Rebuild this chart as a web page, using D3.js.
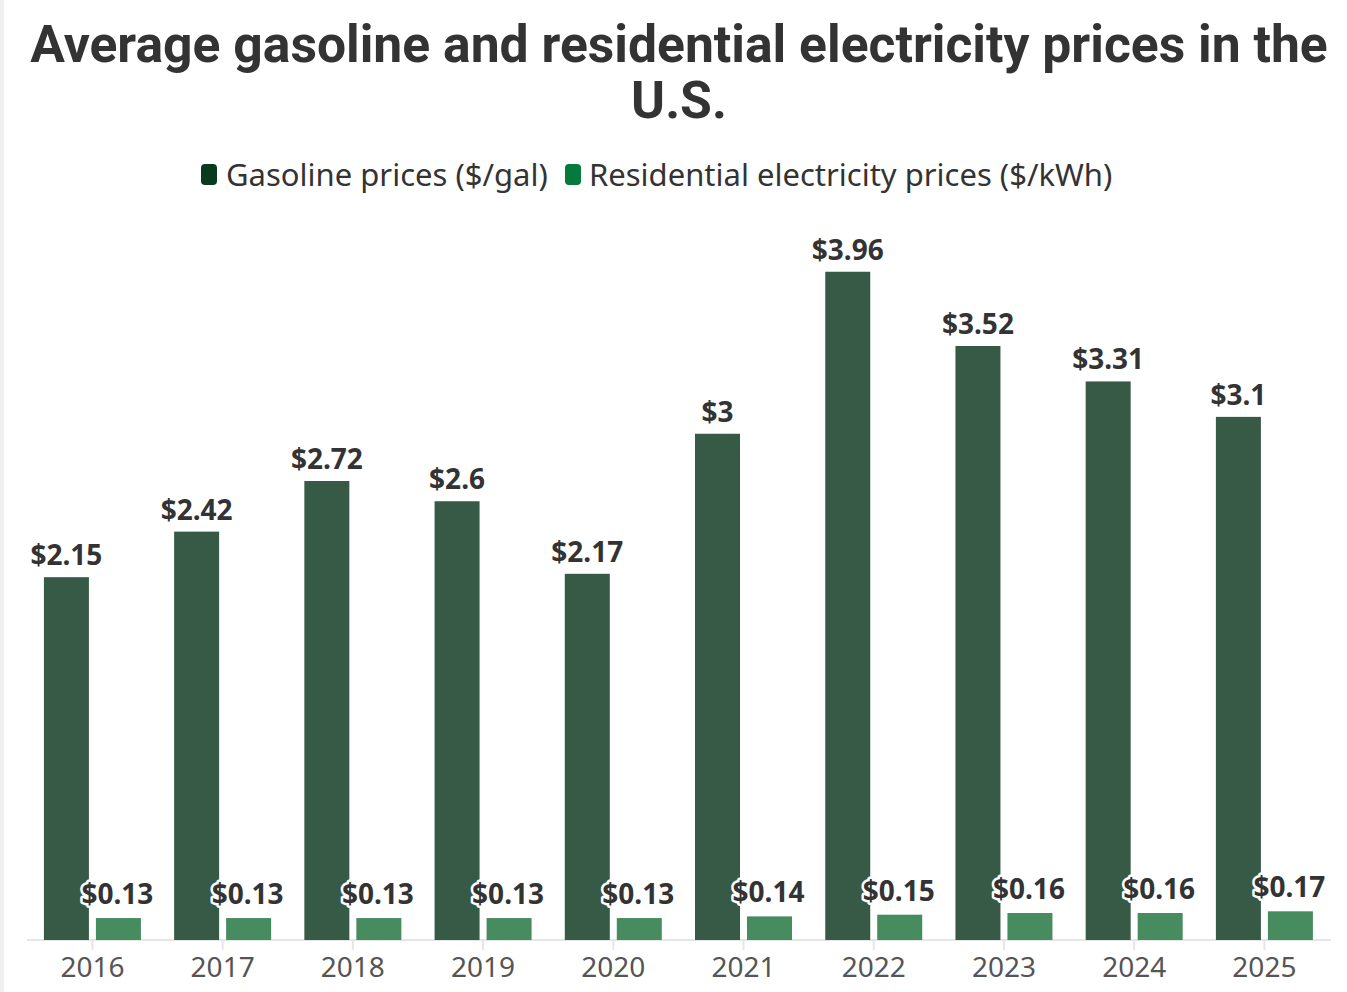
<!DOCTYPE html>
<html>
<head>
<meta charset="utf-8">
<script src="https://cdn.jsdelivr.net/npm/d3@7/dist/d3.min.js"></script>
<style>
  html, body { margin: 0; padding: 0; background: #fff; }
  svg { display: block; }
  text { font-family: "Noto Sans", "Open Sans", sans-serif; }
  text.title { font-family: Roboto, "Noto Sans", sans-serif; }
</style>
</head>
<body>
<svg id="chart" width="1347" height="992"></svg>
<script>
const years = ["2016","2017","2018","2019","2020","2021","2022","2023","2024","2025"];
const gasoline = [2.15, 2.42, 2.72, 2.6, 2.17, 3, 3.96, 3.52, 3.31, 3.1];
const electricity = [0.13, 0.13, 0.13, 0.13, 0.13, 0.14, 0.15, 0.16, 0.16, 0.17];
const seriesNames = ["Gasoline prices ($/gal)", "Residential electricity prices ($/kWh)"];
const seriesKeys = ["gas", "elec"];
const barColors = {gas: "#365a45", elec: "#468c5f"};
const legendColors = {gas: "#0a3a1e", elec: "#047a3d"};
const titleLines = ["Average gasoline and residential electricity prices in the", "U.S."];

const svg = d3.select("#chart");
const W = 1347, H = 992;

// light strip on the left edge
svg.append("rect").attr("x", 0).attr("y", 0).attr("width", 4).attr("height", H).attr("fill", "#f0f0f0");

function fit(sel, target, maxSize) {
  sel.style("font-size", "100px");
  const w = sel.node().getComputedTextLength();
  let fs = 100 * target / w;
  if (maxSize) fs = Math.min(fs, maxSize);
  sel.style("font-size", fs + "px");
  return fs;
}

// Title
const t1 = svg.append("text").attr("class", "title").attr("x", 679).attr("y", 62).attr("text-anchor", "middle")
  .attr("font-weight", 700).attr("fill", "#333").text(titleLines[0]);
const tfs = fit(t1, 1298);
svg.append("text").attr("class", "title").attr("x", 679).attr("y", 118).attr("text-anchor", "middle")
  .attr("font-weight", 700).attr("fill", "#333").style("font-size", tfs + "px").text(titleLines[1]);

// Legend
const legendItems = [
  {key: "gas", name: seriesNames[0], sx: 201, tx: 226, tw: 324},
  {key: "elec", name: seriesNames[1], sx: 565, tx: 589, tw: 543}
];
legendItems.forEach((it) => {
  svg.append("rect").attr("x", it.sx).attr("y", 164).attr("width", 16).attr("height", 21)
    .attr("rx", 4).attr("fill", legendColors[it.key]);
  const tx = svg.append("text").attr("x", it.tx).attr("y", 186).attr("fill", "#333").text(it.name);
  fit(tx, it.tw, 31);
});

// Scales
const baseY = 940;
const x0 = d3.scaleBand().domain(years).range([27.3, 1329.5]).paddingInner(0).paddingOuter(0);
const x1 = d3.scaleBand().domain(seriesKeys).range([0, x0.bandwidth()]).paddingInner(7/52).paddingOuter(0.3194);
const y = d3.scaleLinear().domain([0, 4]).range([baseY, 265]);

const data = years.map((yr, i) => ({year: yr, gas: gasoline[i], elec: electricity[i]}));

// Axis
const xAxis = d3.axisBottom(x0).tickSizeOuter(0).tickSize(10).tickPadding(6);
const ax = svg.append("g").attr("transform", `translate(0,${baseY})`).call(xAxis);
ax.select(".domain").attr("stroke", "#e6e6e6").attr("stroke-width", 2).attr("d", `M27,0H1331`);
ax.selectAll(".tick line").attr("stroke", "#e6e6e6").attr("stroke-width", 2);
ax.selectAll(".tick text").attr("fill", "#555").attr("font-family", "Noto Sans, sans-serif")
  .attr("dy", null).attr("y", 37);
const sample = ax.select(".tick text");
const yfs = fit(sample, 66, 28);
ax.selectAll(".tick text").style("font-size", yfs + "px");

// Bars
const groups = svg.append("g").selectAll("g").data(data).join("g")
  .attr("transform", d => `translate(${x0(d.year)},0)`);

groups.selectAll("rect").data(d => seriesKeys.map(k => ({key: k, value: d[k]}))).join("rect")
  .attr("x", d => x1(d.key))
  .attr("width", x1.bandwidth())
  .attr("y", d => y(d.value))
  .attr("height", d => baseY - y(d.value))
  .attr("fill", d => barColors[d.key]);

// Labels
const fmt = v => "$" + String(v);
const labelG = svg.append("g");
let vfs = null;
data.forEach((d, i) => {
  const gx = x0(d.year) + x1("gas") + x1.bandwidth() / 2;
  const g = labelG.append("text").attr("x", gx).attr("y", y(d.gas) - 12)
    .attr("text-anchor", "middle").attr("font-weight", 700).attr("fill", "#333").text(fmt(d.gas));
  if (vfs === null) vfs = fit(g, 75 * g.text().length / 5, 28);
  g.style("font-size", vfs + "px");
});
data.forEach((d, i) => {
  const ex = x0(d.year) + x1("elec") + x1.bandwidth() / 2 - 1;
  labelG.append("text").attr("x", ex).attr("y", y(d.elec) - 14)
    .attr("text-anchor", "middle").attr("font-weight", 700).attr("fill", "#333")
    .attr("stroke", "#fff").attr("stroke-width", 5).attr("stroke-linejoin", "round")
    .attr("paint-order", "stroke")
    .style("font-size", vfs + "px").text(fmt(d.elec));
});
</script>
</body>
</html>
